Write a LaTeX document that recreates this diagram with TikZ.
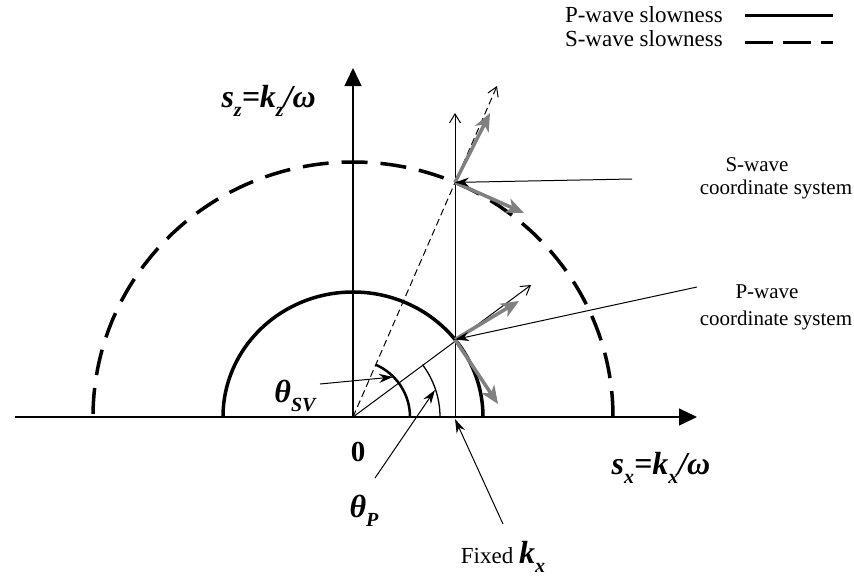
\documentclass[tikz,border=0pt]{standalone}
\usepackage{fontspec}
\setmainfont{Liberation Serif}
\usetikzlibrary{arrows.meta,calc}
\newcommand\bisub[1]{\raisebox{-0.28em}{\fontsize{20}{20}\selectfont\bfseries\itshape #1}}
\begin{document}
\begin{tikzpicture}[x=1pt,y=-1pt,
  lbl/.style={inner sep=0pt, font=\fontsize{21}{24}\selectfont},
  leg/.style={inner sep=0pt, anchor=east, font=\fontsize{23}{26}\selectfont},
  mathlbl/.style={inner sep=0pt, font=\fontsize{32}{34}\selectfont\bfseries\itshape},
  axisline/.style={line width=1.3pt, -{Triangle[length=18pt,width=17pt]}},
  openarrow/.style={line width=1pt, -{Straight Barb[length=9pt,width=11pt]}},
  pointer/.style={line width=1pt, -{Stealth[length=14pt,width=9pt]}},
  grayarrow/.style={line width=3.5pt, draw=black!50, -{Stealth[length=18pt,width=15pt,inset=5pt]}},
  curveP/.style={line width=3.5pt},
  curveS/.style={line width=3.5pt, dash pattern=on 26pt off 13pt},
]
\useasboundingbox (0,0) rectangle (854,584);

% key points
\coordinate (O) at (353,417);
\coordinate (xl) at (15,417);
\coordinate (xr) at (697,417);
\coordinate (yt) at (353,68);
\coordinate (K) at (455,417);
\coordinate (Kt) at (455,113);
\coordinate (P) at (455,339.5);
\coordinate (S) at (455,182.4);
\coordinate (Pt) at (531,285);
\coordinate (St) at (497,86);

% slowness curves
\draw[curveP] (483,417) arc[start angle=0, end angle=180, x radius=130pt, y radius=125pt];
\draw[curveS] (613,417) arc[start angle=0, end angle=180, x radius=260pt, y radius=255pt];

% axes
\draw[axisline] (xl) -- (xr);
\draw[axisline] (O) -- (yt);

% fixed kx line and radial lines
\draw[openarrow] (K) -- (Kt);
\draw[openarrow] (O) -- (Pt);
\draw[openarrow, dash pattern=on 7pt off 4pt] (O) -- (St);

% angle arcs
\draw[line width=2.5pt] (410,417) arc[start angle=0, end angle=66.5, radius=57pt];
\draw[line width=1.3pt] (440,417) arc[start angle=0, end angle=37, radius=87pt];

% coordinate systems
\coordinate (Pr) at (519,301);
\coordinate (Ptg) at (498,404);
\coordinate (Sr) at (490,113);
\coordinate (Stg) at (524,213);
\draw[grayarrow] (P) -- (Pr);
\draw[grayarrow] (P) -- (Ptg);
\draw[grayarrow] (S) -- (Sr);
\draw[grayarrow] (S) -- (Stg);

% labels
\node[mathlbl, anchor=east] (sz) at (316,101) {s\bisub{z}=k\bisub{z}/ω};
\node[mathlbl] (sx) at (661,468) {s\bisub{x}=k\bisub{x}/ω};
\node[mathlbl] (tsv) at (295,396) {θ\bisub{SV}};
\node[mathlbl] (tp) at (364,511) {θ\bisub{P}};
\node[inner sep=0pt, font=\fontsize{29}{30}\selectfont\bfseries] (zero) at (358,452) {0};
\node[inner sep=0pt, font=\fontsize{23}{26}\selectfont] (fk) at (503,557) {Fixed {\fontsize{32}{34}\selectfont\bfseries\itshape k\bisub{x}}};

\node[lbl] (sw1) at (757,165) {S-wave};
\node[lbl] (sw2) at (776,189) {coordinate system};
\node[lbl] (pw1) at (767,292) {P-wave};
\node[lbl] (pw2) at (776,320) {coordinate system};

% pointers
\coordinate (tsvs) at (320,384);
\coordinate (tsve) at (393,377);
\coordinate (tps) at (375,478);
\coordinate (tpe) at (435,390);
\coordinate (fks) at (503,524);
\coordinate (fke) at (455,419);
\coordinate (sws) at (632,179);
\coordinate (pws) at (697,287);
\draw[pointer] (tsvs) -- (tsve);
\draw[pointer] (tps) -- (tpe);
\draw[pointer] (fks) -- (fke);
\draw[pointer] (sws) -- (S);
\draw[pointer] (pws) -- (P);

% legend
\node[leg] (lp) at (723,15) {P-wave slowness};
\node[leg] (ls) at (723,39) {S-wave slowness};
\coordinate (lpa) at (745,15);
\coordinate (lpb) at (833,15);
\coordinate (lsa) at (745,42);
\coordinate (lsb) at (833,42);
\draw[line width=3pt] (lpa) -- (lpb);
\draw[line width=3pt, dash pattern=on 28pt off 10pt] (lsa) -- (lsb);
\end{tikzpicture}
\end{document}
